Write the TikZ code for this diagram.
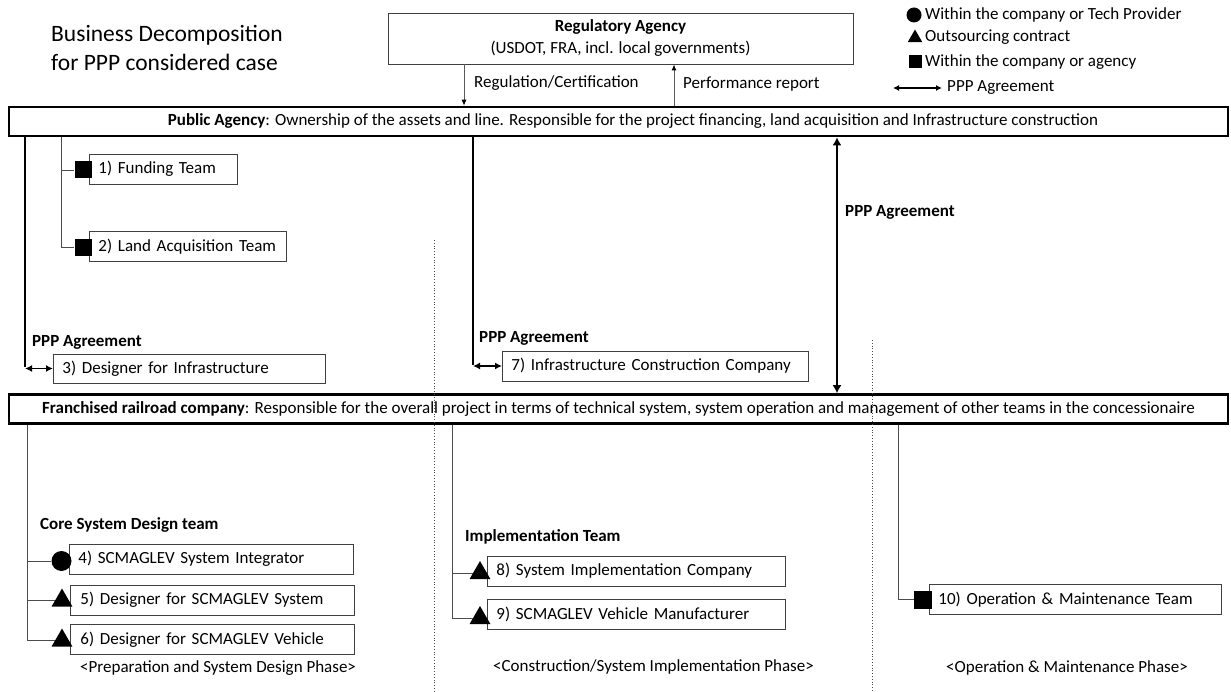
\documentclass[tikz,border=0pt]{standalone}
\usepackage{fontspec}
\setmainfont{Carlito}
\usetikzlibrary{shapes.geometric,arrows.meta}
\begin{document}
\begin{tikzpicture}[x=1pt,y=-1pt,
  every node/.style={font=\fontsize{17}{20}\selectfont, inner sep=0pt},
  bigbox/.style={draw=black, line width=2.6pt, minimum width=1219pt, minimum height=29pt},
  regbox/.style={draw=black!75, line width=0.9pt, align=center, font=\fontsize{17}{22}\selectfont},
  teambox/.style={draw=black!75, line width=0.9pt, anchor=west, align=left, inner xsep=9pt, minimum height=30pt},
  sqmark/.style={fill=black, rectangle, minimum size=17pt},
  cirmark/.style={fill=black, circle, minimum size=20pt},
  trimark/.style={fill=black, regular polygon, regular polygon sides=3, minimum size=24pt},
  thinline/.style={draw=black!70, line width=0.9pt},
  thickline/.style={draw=black, line width=2.4pt},
  dbl/.style={{Latex[length=7pt,width=7pt]}-{Latex[length=7pt,width=7pt]}},
  thinarrow/.style={draw=black!65, line width=0.9pt, -{Latex[length=6pt,width=5pt,black]}},
  dotline/.style={draw=black!70, line width=0.8pt, dotted},
  lbl/.style={anchor=west},
  blbl/.style={anchor=west, font=\fontsize{17}{20}\selectfont\bfseries},
]
\useasboundingbox (0,0) rectangle (1231,692);

% title
\node[anchor=west, align=left, font=\fontsize{23.5}{29}\selectfont] (title) at (51,48) {Business Decomposition\\for PPP considered case};

% regulatory agency
\node[regbox, minimum width=465pt, minimum height=51pt] (reg) at (620.5,38.5) {\textbf{Regulatory Agency}\\(USDOT, FRA, incl. local governments)};

% legend
\node[cirmark, minimum size=15pt] (l1) at (914,15) {};
\node[lbl] (l1t) at (925,15) {Within the company or Tech Provider};
\node[trimark, minimum size=17pt] (l2) at (915,38) {};
\node[lbl] (l2t) at (925,37) {Outsourcing contract};
\node[sqmark, minimum size=13pt] (l3) at (915,62) {};
\node[lbl] (l3t) at (925,62) {Within the company or agency};
\coordinate (la) at (893,88);
\node[lbl] (l4t) at (947,88) {PPP Agreement};
\draw[line width=1.6pt, {Latex[length=6pt,width=6pt]}-{Latex[length=6pt,width=6pt]}] (la) -- ([xshift=-5pt]l4t.west);

% public agency
\node[bigbox] (pa) at (618.5,121.5) {};
\node (pat) at (633,121.5) {\textbf{Public Agency}: Ownership of the assets and line. Responsible for the project financing, land acquisition and Infrastructure construction};

% regulation arrows
\coordinate (r1) at (464,0);
\coordinate (r2) at (674,0);
\draw[thinarrow] (reg.south -| r1) -- (pa.north -| r1);
\draw[thinarrow] (pa.north -| r2) -- (reg.south -| r2);
\node[lbl] (rl1) at (474,83) {Regulation/Certification};
\node[lbl] (rl2) at (683,84) {Performance report};

% franchised company
\node[bigbox] (fr) at (618.5,409) {\textbf{Franchised railroad company}: Responsible for the overall project in terms of technical system, system operation and management of other teams in the concessionaire};

% dotted phase separators
\draw[dotline] (434,240) -- (434,692);
\draw[dotline] (872,340) -- (872,692);

% public agency teams
\node[teambox, text width=130pt] (b1) at (89,169) {1) Funding Team};
\node[teambox, text width=179pt] (b2) at (89,246.5) {2) Land Acquisition Team};
\node[teambox, text width=254pt, minimum height=29pt] (b3) at (53,368.5) {3) Designer for Infrastructure};
\node[teambox, text width=288pt] (b7) at (502,366) {7) Infrastructure Construction Company};
\node[sqmark] (m1) at (83,170) {};
\node[sqmark] (m2) at (83,247.5) {};
\coordinate (c61) at (61,0);
\draw[thinline] (pa.south -| c61) |- (m2.west);
\draw[thinline] (c61 |- m1) -- (m1.west);

\node[blbl] (ppp1) at (32,342) {PPP Agreement};
\node[blbl] (ppp2) at (479,338) {PPP Agreement};
\node[blbl] (ppp3) at (845,212) {PPP Agreement};

\coordinate (c25) at (25,368.5);
\draw[thickline] (pa.south -| c25) -- ([yshift=1.2pt]c25);
\draw[line width=1.8pt, dbl] (c25) -- (b3.west);
\coordinate (c473) at (473,366);
\draw[thickline] (pa.south -| c473) -- ([yshift=1.2pt]c473);
\draw[line width=1.8pt, dbl] (c473) -- (b7.west);
\coordinate (c837) at (837,0);
\draw[line width=2.6pt, {Latex[length=8pt,width=9pt]}-{Latex[length=8pt,width=9pt]}] (pa.south -| c837) -- (fr.north -| c837);

% preparation and system design phase
\node[blbl] (core) at (40,525) {Core System Design team};
\node[teambox, text width=266pt] (b4) at (69,559) {4) SCMAGLEV System Integrator};
\node[teambox, text width=264pt, inner xsep=10pt] (b5) at (70,600) {5) Designer for SCMAGLEV System};
\node[teambox, text width=264pt, inner xsep=10pt] (b6) at (70,639.5) {6) Designer for SCMAGLEV Vehicle};
\node[cirmark] (m4) at (61.5,561) {};
\node[trimark] (m5) at (62,600.5) {};
\node[trimark] (m6) at (62,640.5) {};
\coordinate (c27) at (27,0);
\draw[thinline] (fr.south -| c27) |- (m6.west);
\draw[thinline] (c27 |- m4) -- (m4.west);
\draw[thinline] (c27 |- m5) -- (m5.west);
\node[lbl] (ph1) at (80,668) {<Preparation and System Design Phase>};

% construction phase
\node[blbl] (impl) at (465,537) {Implementation Team};
\node[teambox, text width=280pt] (b8) at (487,571) {8) System Implementation Company};
\node[teambox, text width=280pt] (b9) at (487,614.5) {9) SCMAGLEV Vehicle Manufacturer};
\node[trimark] (m8) at (480,573) {};
\node[trimark] (m9) at (480,618) {};
\coordinate (c452) at (452,0);
\draw[thinline] (fr.south -| c452) |- (m9.west);
\draw[thinline] (c452 |- m8) -- (m8.west);
\node[lbl] (ph2) at (493,667) {<Construction/System Implementation Phase>};

% operation phase
\node[teambox, text width=274pt] (b10) at (929,599.5) {10) Operation \& Maintenance Team};
\node[sqmark, minimum size=18pt] (m10) at (923,599.5) {};
\coordinate (c898) at (898,0);
\draw[thinline] (fr.south -| c898) |- (m10.west);
\node[lbl] (ph3) at (946,668) {<Operation \& Maintenance Phase>};
\end{tikzpicture}
\end{document}
